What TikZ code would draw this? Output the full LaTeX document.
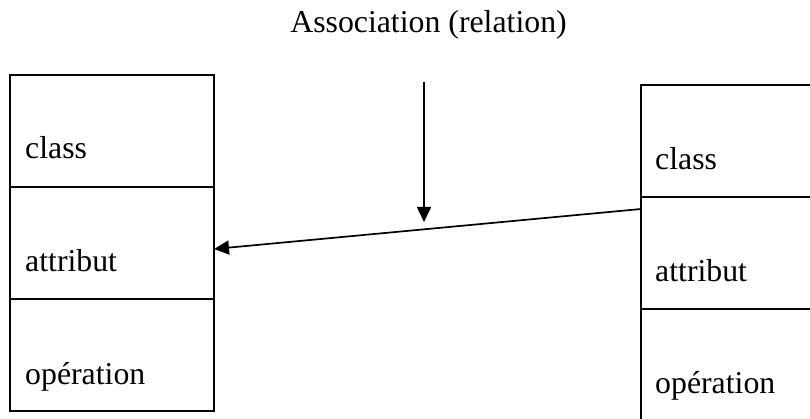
\documentclass[tikz,border=0pt]{standalone}
\usepackage{fontspec}
\setmainfont{Liberation Serif}
\usetikzlibrary{arrows.meta}
\begin{document}
\begin{tikzpicture}[x=1pt,y=-1pt,
  comp/.style={draw,line width=1.9pt,minimum width=204pt,minimum height=112pt,inner sep=0pt,outer sep=0pt,anchor=north west},
  compr/.style={comp,minimum width=200pt},
  lbl/.style={font=\fontsize{31.8}{38}\selectfont,anchor=base west,inner sep=0pt},
  conn/.style={line width=1.7pt,-{Triangle[length=15pt,width=14pt]}}]
\useasboundingbox (0,0) rectangle (810,419);
\clip (0,0) rectangle (810,419);
% title
\node[font=\fontsize{31.8}{38}\selectfont,anchor=base,inner sep=0pt] (title) at (428.5,33) {Association (relation)};
% left class
\node[comp] (lc) at (10,75) {};
\node[comp] (la) at (10,187) {};
\node[comp] (lo) at (10,299) {};
\node[lbl] (lct) at (25,159) {class};
\node[lbl] (lat) at (25,272) {attribut};
\node[lbl] (lot) at (25,384) {opération};
% right class
\node[compr] (rc) at (641,85) {};
\node[compr] (ra) at (641,197) {};
\node[compr] (ro) at (641,309) {};
\node[lbl] (rct) at (655,170) {class};
\node[lbl] (rat) at (655,282) {attribut};
\node[lbl] (rot) at (655,393) {opération};
% connectors
\draw[conn] ([yshift=-12pt]ra.north west) -- ([yshift=-62pt]la.north east);
\coordinate (vtop) at (424,82);
\coordinate (vbot) at (424,222);
\draw[conn] (vtop) -- (vbot);
\end{tikzpicture}
\end{document}
